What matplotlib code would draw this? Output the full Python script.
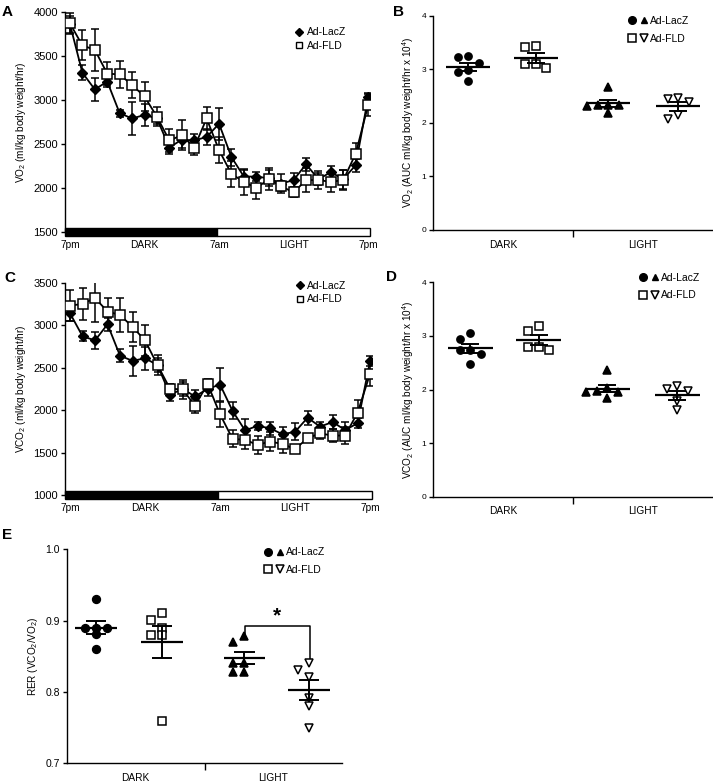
import numpy as np
import matplotlib
matplotlib.use('Agg')
import matplotlib.pyplot as plt
from matplotlib.patches import Rectangle
from matplotlib.lines import Line2D
from matplotlib.legend_handler import HandlerTuple

plt.rcParams['font.family'] = ['Liberation Sans', 'DejaVu Sans']
plt.rcParams['mathtext.fontset'] = 'custom'
plt.rcParams['mathtext.rm'] = 'Liberation Sans'
plt.rcParams['mathtext.it'] = 'Liberation Sans:italic'
plt.rcParams['axes.linewidth'] = 1.0

# ---- data ----
hours = list(range(25))
time_labels = ['7pm', 'DARK', '7am', 'LIGHT', '7pm']
time_label_hours = [0, 6, 12, 18, 24]
groups = ['Ad-LacZ', 'Ad-FLD']
phases = ['DARK', 'LIGHT']

vo2_lacz = [3860, 3310, 3120, 3210, 2850, 2790, 2830, 2790, 2460, 2550, 2540, 2580, 2730,
            2350, 2130, 2130, 2110, 2050, 2090, 2270, 2100, 2180, 2100, 2260, 3030]
vo2_lacz_err = [100, 85, 130, 60, 40, 190, 130, 60, 70, 90, 70, 95, 180,
                95, 75, 55, 90, 110, 75, 75, 65, 75, 110, 75, 55]
vo2_fld = [3870, 3620, 3570, 3300, 3290, 3170, 3040, 2810, 2540, 2600, 2460, 2790, 2430,
           2160, 2070, 2000, 2100, 2020, 1950, 2090, 2090, 2070, 2090, 2390, 2940]
vo2_fld_err = [115, 170, 235, 130, 150, 150, 160, 110, 130, 170, 85, 130, 145,
               145, 150, 125, 125, 55, 55, 140, 105, 110, 110, 125, 125]

vco2_lacz = [3140, 2870, 2820, 3010, 2640, 2580, 2610, 2530, 2180, 2250, 2160, 2250, 2300,
             1990, 1760, 1815, 1785, 1715, 1745, 1910, 1805, 1860, 1765, 1845, 2580]
vco2_lacz_err = [90, 60, 100, 80, 75, 180, 137, 80, 70, 80, 75, 80, 196,
                 100, 140, 50, 80, 80, 100, 80, 60, 80, 100, 60, 60]
vco2_fld = [3230, 3250, 3320, 3160, 3120, 2980, 2820, 2530, 2250, 2245, 2050, 2310, 1950,
            1660, 1650, 1590, 1630, 1600, 1540, 1670, 1725, 1700, 1700, 1970, 2430]
vco2_fld_err = [185, 190, 283, 165, 196, 176, 184, 118, 60, 110, 80, 60, 150,
                100, 110, 110, 110, 100, 50, 40, 60, 80, 100, 150, 150]

# AUC per animal (x 10^4)
vo2_auc_dark_lacz = [3.24, 3.23, 3.12, 2.98, 2.95, 2.78]
vo2_auc_dark_fld = [3.43, 3.42, 3.09, 3.09, 3.02]
vo2_auc_light_lacz = [2.66, 2.34, 2.33, 2.33, 2.32, 2.19]
vo2_auc_light_fld = [2.47, 2.45, 2.39, 2.14, 2.08]

vco2_auc_dark_lacz = [3.05, 2.94, 2.74, 2.73, 2.66, 2.48]
vco2_auc_dark_fld = [3.19, 3.09, 2.79, 2.79, 2.74]
vco2_auc_light_lacz = [2.36, 2.02, 1.97, 1.96, 1.95, 1.85]
vco2_auc_light_fld = [2.07, 2.01, 1.97, 1.79, 1.61]

rer_dark_lacz = [0.930, 0.890, 0.890, 0.890, 0.881, 0.860]
rer_dark_fld = [0.910, 0.901, 0.890, 0.880, 0.880, 0.759]
rer_light_lacz = [0.879, 0.870, 0.840, 0.840, 0.828, 0.828]
rer_light_fld = [0.840, 0.831, 0.821, 0.791, 0.781, 0.750]

W, H = 713, 783
fig = plt.figure(figsize=(W / 100, H / 100), dpi=100)


def px_axes(l, t, r, b):
    return fig.add_axes([l / W, 1 - b / H, (r - l) / W, (b - t) / H])


def time_course(ax, lacz, lacz_err, fld, fld_err, ylim, ylabel, leg_anchor):
    xmin, xmax = -0.4, 24.15
    ax.errorbar(hours, lacz, yerr=lacz_err, color='black', lw=1.3, marker='D', ms=5,
                mfc='black', mec='black', capsize=3, elinewidth=1.1, capthick=1.1, zorder=3)
    ax.errorbar(hours, fld, yerr=fld_err, color='black', lw=1.3, marker='s', ms=6.5,
                mfc='white', mec='black', mew=1.1, capsize=3, elinewidth=1.1, capthick=1.1, zorder=4)
    ax.set_xlim(xmin, xmax)
    ax.set_ylim(ylim[0], ylim[-1])
    ax.set_yticks(ylim)
    ax.tick_params(axis='y', labelsize=8, length=3, width=1, pad=2)
    ax.set_xticks(time_label_hours)
    ax.set_xticklabels(time_labels)
    ax.tick_params(axis='x', labelsize=7.3, length=0, pad=6)
    for s in ['top', 'right', 'bottom']:
        ax.spines[s].set_visible(False)
    # dark / light bar along the x axis
    light_on = 11.8
    bh = 0.036
    tr = ax.get_xaxis_transform()
    ax.add_patch(Rectangle((xmin, -bh / 2), light_on - xmin, bh, transform=tr,
                           facecolor='black', edgecolor='black', lw=1, clip_on=False, zorder=5))
    ax.add_patch(Rectangle((light_on, -bh / 2), xmax - light_on, bh, transform=tr,
                           facecolor='white', edgecolor='black', lw=1, clip_on=False, zorder=5))
    ax.set_ylabel(ylabel, fontsize=7.2, labelpad=4)
    handles = [Line2D([], [], ls='none', marker='D', ms=4, mfc='black', mec='black'),
               Line2D([], [], ls='none', marker='s', ms=5, mfc='white', mec='black', mew=1)]
    ax.legend(handles, groups, loc='upper left', bbox_to_anchor=leg_anchor, frameon=False,
              fontsize=7.5, handlelength=0.7, handletextpad=0.4, borderpad=0, labelspacing=0.35,
              borderaxespad=0)


def swarm(vals, px_y, diam, max_slot):
    # put each point in the slot nearest the centre where it does not overlap;
    # if every slot is taken, use the slot where the overlap is smallest
    placed = []
    slots = []
    cands = [0] + [s * j for j in range(1, max_slot + 1) for s in (-1, 1)]
    for v in vals:
        y = v * px_y
        best, best_gap = 0, -1
        for c in cands:
            gaps = [abs(y - py) for pc, py in placed if pc == c]
            gap = min(gaps) if gaps else np.inf
            if gap >= diam:
                best = c
                break
            if gap > best_gap:
                best, best_gap = c, gap
        placed.append((best, y))
        slots.append(best)
    return np.array(slots, dtype=float)


def dot_plot(ax, sets, positions, yticks, ylabel, ms, tick_fs, leg_anchor, ylabel_fs=7.2,
             mean_hw=0.32, cap_hw=0.13, step_px=10.5, max_slot=2):
    markers = ['o', 's', '^', 'v']
    faces = ['black', 'white', 'black', 'white']
    ax.set_xlim(0, 4)
    ax.set_ylim(yticks[0], yticks[-1])
    bb = ax.get_window_extent()
    px_x = bb.width / 4
    px_y = bb.height / (yticks[-1] - yticks[0])
    diam = 0.9 * ms * 100 / 72
    for vals, pos, mk, fc in zip(sets, positions, markers, faces):
        offs = swarm(vals, px_y, diam, max_slot) * step_px / px_x
        ax.plot(pos + offs, vals, ls='none', marker=mk, ms=ms * (1.05 if mk in 's' else 1.0),
                mfc=fc, mec='black', mew=1.1, zorder=3, clip_on=False)
        m = np.mean(vals)
        se = np.std(vals, ddof=1) / np.sqrt(len(vals))
        ax.hlines(m, pos - mean_hw, pos + mean_hw, color='black', lw=1.6, zorder=4)
        ax.vlines(pos, m - se, m + se, color='black', lw=1.4, zorder=4)
        ax.hlines([m - se, m + se], pos - cap_hw, pos + cap_hw, color='black', lw=1.4, zorder=4)
    ax.set_yticks(yticks)
    ax.tick_params(axis='y', labelsize=tick_fs, length=3, width=1, pad=2)
    ax.set_xticks([2])
    ax.set_xticklabels([''])
    ax.tick_params(axis='x', which='major', length=5, width=1)
    ax.set_xticks([1, 3], minor=True)
    ax.set_xticklabels(phases, minor=True)
    ax.tick_params(axis='x', which='minor', length=0, labelsize=7.3, pad=7)
    for s in ['top', 'right']:
        ax.spines[s].set_visible(False)
    ax.set_ylabel(ylabel, fontsize=ylabel_fs, labelpad=4)
    h1 = (Line2D([], [], ls='none', marker='o', ms=5.5, mfc='black', mec='black'),
          Line2D([], [], ls='none', marker='^', ms=5, mfc='black', mec='black'))
    h2 = (Line2D([], [], ls='none', marker='s', ms=6, mfc='white', mec='black', mew=1.1),
          Line2D([], [], ls='none', marker='v', ms=5.5, mfc='white', mec='black', mew=1.1))
    ax.legend([h1, h2], groups, handler_map={tuple: HandlerTuple(ndivide=None, pad=0.5)},
              loc='upper left', bbox_to_anchor=leg_anchor, frameon=False, fontsize=7.5,
              handlelength=1.7, handletextpad=0.3, borderpad=0, labelspacing=0.75, borderaxespad=0)


# ---- A ----
axA = px_axes(65, 12, 370, 232)
time_course(axA, vo2_lacz, vo2_lacz_err, vo2_fld, vo2_fld_err,
            [1500, 2000, 2500, 3000, 3500, 4000], r'VO$_2$ (ml/kg body weight/hr)', (0.755, 0.93))

# ---- B ----
axB = px_axes(433, 15.7, 713, 230)
dot_plot(axB, [vo2_auc_dark_lacz, vo2_auc_dark_fld, vo2_auc_light_lacz, vo2_auc_light_fld],
         [0.5, 1.47, 2.5, 3.5], [0, 1, 2, 3, 4],
         r'VO$_2$ (AUC ml/kg body weight/hr x 10$^4$)', 5.2, 6, (0.70, 1.0))

# ---- C ----
axC = px_axes(65, 282.7, 372, 495)
time_course(axC, vco2_lacz, vco2_lacz_err, vco2_fld, vco2_fld_err,
            [1000, 1500, 2000, 2500, 3000, 3500], r'VCO$_2$ (ml/kg body weight/hr)', (0.752, 1.01))

# ---- D ----
axD = px_axes(433, 282.3, 713, 496.7)
dot_plot(axD, [vco2_auc_dark_lacz, vco2_auc_dark_fld, vco2_auc_light_lacz, vco2_auc_light_fld],
         [0.53, 1.51, 2.49, 3.49], [0, 1, 2, 3, 4],
         r'VCO$_2$ (AUC ml/kg body weight/hr x 10$^4$)', 5.2, 6, (0.74, 1.045))

# ---- E ----
axE = px_axes(67, 549.3, 342, 763.3)
dot_plot(axE, [rer_dark_lacz, rer_dark_fld, rer_light_lacz, rer_light_fld],
         [0.42, 1.38, 2.58, 3.52], [0.7, 0.8, 0.9, 1.0],
         r'RER (VCO$_2$/VO$_2$)', 5.6, 7.5, (0.72, 1.01), mean_hw=0.30, cap_hw=0.15,
         step_px=11, max_slot=1)
axE.set_yticklabels(['0.7', '0.8', '0.9', '1.0'])
# significance bracket LIGHT: LacZ vs FLD
axE.plot([2.59, 2.59, 3.53, 3.53], [0.878, 0.893, 0.893, 0.845], color='black', lw=1.1)
axE.text(3.06, 0.893, '*', ha='center', va='bottom', fontsize=15, fontweight='bold')

# panel letters
for letter, (x, y) in zip('ABCDE', [(2, 5), (393, 5), (4, 271), (386, 270), (2, 528)]):
    fig.text(x / W, 1 - y / H, letter, ha='left', va='top', fontsize=11, fontweight='bold')

fig.savefig('out.png', dpi=100)
